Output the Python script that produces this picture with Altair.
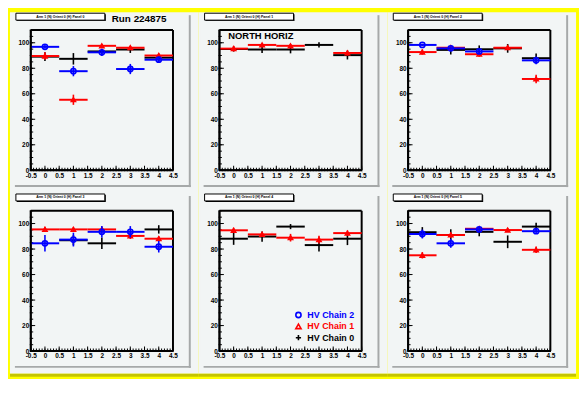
import altair as alt
import pandas as pd

# ---------------- data ----------------
panel_titles = [
    "Arm 1 (N) Orient 0 (H) Panel 0",
    "Arm 1 (N) Orient 0 (H) Panel 1",
    "Arm 1 (N) Orient 0 (H) Panel 2",
    "Arm 1 (N) Orient 0 (H) Panel 3",
    "Arm 1 (N) Orient 0 (H) Panel 4",
    "Arm 1 (N) Orient 0 (H) Panel 5",
]
run_label = "Run 224875"
region_label = "NORTH HORIZ"
series_names = ["HV Chain 2", "HV Chain 1", "HV Chain 0"]
series_colors = ["#0000ff", "#ff0000", "#000000"]
x_bins = [0, 1, 2, 3, 4]

chain2_vals = [
    [96.8, 77.7, 92.5, 79.4, 86.7],
    [None, None, None, None, None],
    [98.3, 95.6, 93.2, None, 86.2],
    [84.5, 87.4, 93.5, 93.5, 81.8],
    [None, None, None, None, None],
    [91.8, 84.5, 95.4, None, 94.0],
]
chain2_errs = [
    [1.5, 4.0, 2.8, 4.0, 2.4],
    [None, None, None, None, None],
    [1.0, 1.5, 2.0, None, 3.0],
    [6.5, 5.4, 4.5, 4.5, 4.5],
    [None, None, None, None, None],
    [3.5, 3.5, 2.0, None, 2.0],
]
chain1_vals = [
    [89.6, 55.3, 97.6, 96.1, 90.0],
    [95.4, 98.3, 97.6, None, 92.0],
    [92.7, 96.1, 91.0, 96.1, 71.6],
    [95.4, 95.4, 95.4, 90.3, 88.1],
    [94.7, 91.5, 88.9, 87.4, 92.5],
    [75.1, 91.0, 95.9, 94.9, 79.4],
]
chain1_errs = [
    [3.0, 4.0, 1.5, 1.5, 1.5],
    [2.2, 1.0, 1.5, None, 2.0],
    [2.0, 1.5, 2.0, 1.5, 3.4],
    [2.0, 2.0, 2.0, 2.4, 2.0],
    [2.0, 2.0, 3.0, 3.0, 2.0],
    [2.5, 2.0, 1.5, 1.5, 2.5],
]
chain0_vals = [
    [89.1, 87.4, 93.2, 94.7, 88.3],
    [95.1, 94.7, 94.7, 98.3, 90.3],
    [None, 94.4, 94.9, 95.6, 87.9],
    [None, 86.9, 84.5, None, 95.4],
    [88.1, 89.8, 97.6, 83.1, 88.1],
    [93.2, 91.0, 93.5, 85.7, 97.6],
]
chain0_errs = [
    [3.5, 4.5, 2.0, 2.7, 3.0],
    [2.0, 2.7, 3.0, 2.0, 3.4],
    [None, 3.6, 3.0, 3.4, 3.6],
    [None, 4.0, 4.5, None, 3.3],
    [4.8, 4.0, 2.0, 5.0, 5.0],
    [4.0, 4.5, 3.5, 5.0, 3.0],
]

x_major_ticks = [-0.5, 0, 0.5, 1, 1.5, 2, 2.5, 3, 3.5, 4, 4.5]
x_minor_ticks = [round(-0.5 + 0.1 * i, 1) for i in range(51)]
y_major_ticks = [0, 20, 40, 60, 80, 100]
y_minor_ticks = [0, 5, 10, 15, 20, 25, 30, 35, 40, 45, 50, 55, 60, 65, 70, 75, 80, 85, 90, 95, 100, 105, 110]

# ---------------- styling ----------------
BG = "#f2f5f5"
SHADOW = "#a6a9a9"
YELLOW = "#ffff00"
OLIVE = "#c4c400"
FONT = "Liberation Sans"
W, H = 144, 142
LM, RM, TM, BM = 21, 26, 18, 23

series_data = {
    "HV Chain 0": (chain0_vals, chain0_errs),
    "HV Chain 1": (chain1_vals, chain1_errs),
    "HV Chain 2": (chain2_vals, chain2_errs),
}
color_of = dict(zip(series_names, series_colors))

rows = []
for name, (vals, errs) in series_data.items():
    for p in range(6):
        for xb, v, e in zip(x_bins, vals[p], errs[p]):
            if v is None:
                continue
            rows.append(dict(panel=p, series=name, x=xb, xl=xb - 0.5, xr=xb + 0.5,
                             y=v, ylo=v - e, yhi=v + e))
df = pd.DataFrame(rows)
one = pd.DataFrame({"k": [0]})

xscale = alt.Scale(domain=[-0.5, 4.5], nice=False, zero=False)
yscale = alt.Scale(domain=[0, 110], nice=False, zero=False)
xaxis = alt.Axis(values=x_major_ticks,
                 labelExpr="datum.value < 0 ? '-' + format(-datum.value, '') : format(datum.value, '')",
                 labelFlush=False, labelOverlap=False, labelPadding=2, title=None,
                 ticks=False, domain=False, grid=False, zindex=1)
yaxis = alt.Axis(values=y_major_ticks, labelPadding=2, labelOverlap=False, title=None,
                 ticks=False, domain=False, grid=False, zindex=1)


def X(f):
    return alt.X(f, type="quantitative", scale=xscale, axis=xaxis)


def Y(f):
    return alt.Y(f, type="quantitative", scale=yscale, axis=yaxis)


def vrect(x1, x2, y1, y2, **kw):
    return alt.Chart(one).mark_rect(**kw).encode(
        x=alt.value(x1), x2=alt.value(x2), y=alt.value(y1), y2=alt.value(y2))


def vline(x1, x2, y1, y2, **kw):
    return alt.Chart(one).mark_rule(**kw).encode(
        x=alt.value(x1), x2=alt.value(x2), y=alt.value(y1), y2=alt.value(y2))


def vtext(txt, x, y, **kw):
    return alt.Chart(one).mark_text(text=txt, font=FONT, fontWeight="bold", **kw).encode(
        x=alt.value(x), y=alt.value(y))


def panel(p):
    layers = [
        vrect(-LM, W + RM, -TM, H + BM, fill=BG),
        vrect(W + 16, W + 18, -15, H + 17, fill=SHADOW),
        vrect(-16, W + 18, H + 15, H + 17, fill=SHADOW),
        vrect(-14, 76, -16, -9, fill="#000000"),
        vrect(-15, 75, -17, -10, fill="#ffffff", stroke="#000000", strokeWidth=1),
        vtext(panel_titles[p], 30, -13.5, fontSize=3.5, align="center", baseline="middle", color="#000000"),
    ]
    if p >= 3:
        # dark lower edge of the canvas border
        layers.append(vrect(-LM, W + RM, H + BM, H + BM + 3, fill=OLIVE))
    # frame
    layers += [
        vline(0, W, 0, 0, color="#000000", strokeWidth=2),
        vline(0, W, H, H, color="#000000", strokeWidth=2),
        vline(0, 0, 0, H, color="#000000", strokeWidth=2),
        vline(W, W, 0, H, color="#000000", strokeWidth=2),
    ]
    # axis tick marks (inward, ROOT style)
    tx_maj = pd.DataFrame({"t": x_major_ticks})
    tx_min = pd.DataFrame({"t": x_minor_ticks})
    ty_maj = pd.DataFrame({"t": y_major_ticks})
    ty_min = pd.DataFrame({"t": y_minor_ticks})
    layers += [
        alt.Chart(tx_min).mark_tick(color="#000000", thickness=1, size=5, opacity=1).encode(
            x=X("t"), y=alt.value(H)),
        alt.Chart(tx_maj).mark_tick(color="#000000", thickness=1, size=9, opacity=1).encode(
            x=X("t"), y=alt.value(H)),
        alt.Chart(ty_min).mark_tick(color="#000000", thickness=1, size=5, opacity=1).encode(
            y=Y("t"), x=alt.value(0)),
        alt.Chart(ty_maj).mark_tick(color="#000000", thickness=1, size=9, opacity=1).encode(
            y=Y("t"), x=alt.value(0)),
    ]
    for name in ["HV Chain 0", "HV Chain 1", "HV Chain 2"]:
        d = df[(df.panel == p) & (df.series == name)]
        c = color_of[name]
        layers.append(alt.Chart(d).mark_rule(color=c, strokeWidth=2).encode(
            x=X("xl"), x2="xr:Q", y=Y("y")))
        layers.append(alt.Chart(d).mark_rule(color=c, strokeWidth=1.6).encode(
            x=X("x"), y=Y("ylo"), y2="yhi:Q"))
        if name == "HV Chain 2":
            layers.append(alt.Chart(d).mark_point(shape="circle", size=28, filled=False,
                                                  color=c, strokeWidth=1.6, opacity=1).encode(
                x=X("x"), y=Y("y")))
        elif name == "HV Chain 1":
            layers.append(alt.Chart(d).mark_point(shape="triangle-up", size=18, filled=False,
                                                  color=c, strokeWidth=1.6, opacity=1).encode(
                x=X("x"), y=Y("y")))
    # cover the inward tick halves that stick outside the frame
    layers += [
        vrect(-LM + 2, -1, -TM + 10, H + 6, fill=BG),
        vrect(-1, W + 1, H + 1, H + 6, fill=BG),
        vline(0, W, H, H, color="#000000", strokeWidth=2),
        vline(0, 0, 0, H, color="#000000", strokeWidth=2),
    ]

    if p == 0:
        layers.append(vtext(run_label, 82, -11, fontSize=10, align="left", baseline="middle", color="#000000"))
    if p == 1:
        layers.append(vtext(region_label, 9, 9.5, fontSize=9.5, align="left", baseline="alphabetic", color="#000000"))
    if p == 4:
        leg = pd.DataFrame({"series": series_names, "row": [0, 1, 2]})
        cscale = alt.Scale(domain=series_names, range=series_colors)
        sscale = alt.Scale(domain=series_names,
                           range=["circle", "triangle-up", "M-1,0L1,0M0,-1L0,1"])
        base = alt.Chart(leg).transform_calculate(ly="105.5 + datum.row * 11.5")
        layers.append(base.mark_point(filled=False, size=28, strokeWidth=1.6, opacity=1).encode(
            x=alt.value(80), y=alt.Y("ly:Q", scale=None),
            color=alt.Color("series:N", scale=cscale, legend=None),
            shape=alt.Shape("series:N", scale=sscale, legend=None)))
        layers.append(base.mark_text(font=FONT, fontWeight="bold", fontSize=9, align="left",
                                     baseline="middle").encode(
            x=alt.value(89), y=alt.Y("ly:Q", scale=None), text="series:N",
            color=alt.Color("series:N", scale=cscale, legend=None)))

    return alt.layer(*layers).properties(width=W, height=H)


row1 = alt.hconcat(panel(0), panel(1), panel(2), spacing=0)
row2 = alt.hconcat(panel(3), panel(4), panel(5), spacing=0)
chart = alt.vconcat(row1, row2, spacing=0).properties(
    padding={"left": 2, "top": 2, "right": 3, "bottom": 0},
    background=YELLOW,
).configure_view(strokeWidth=0, fill=BG).configure_axis(
    labelFont=FONT, labelFontSize=6.5, labelFontWeight="bold", labelColor="#000000"
)

chart.save("out.html", embed_options={"renderer": "svg", "actions": False})
